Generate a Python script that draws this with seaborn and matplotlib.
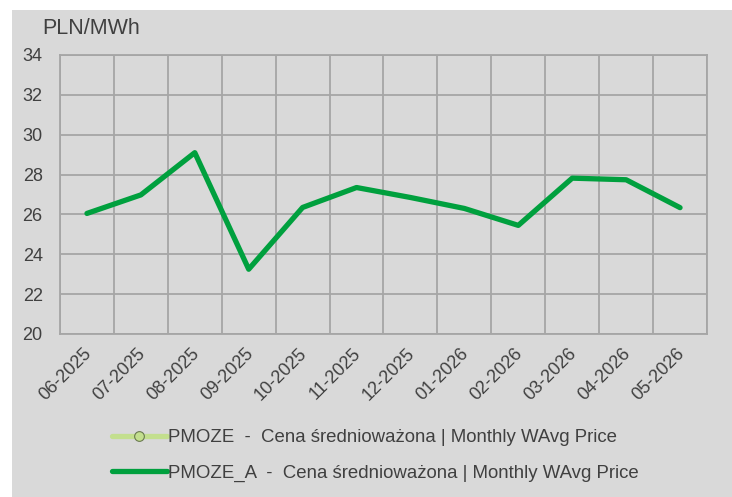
import pandas as pd
import numpy as np
import matplotlib
matplotlib.use("Agg")
import matplotlib.pyplot as plt
import matplotlib.transforms as mtransforms
import seaborn as sns
from matplotlib.patches import Rectangle
from matplotlib.lines import Line2D

# data
months = ["06-2025", "07-2025", "08-2025", "09-2025", "10-2025", "11-2025",
          "12-2025", "01-2026", "02-2026", "03-2026", "04-2026", "05-2026"]
pmoze_a = [26.05, 26.98, 29.1, 23.25, 26.35, 27.35,
           26.85, 26.3, 25.45, 27.82, 27.74, 26.34]
pmoze = [np.nan] * len(months)  # no visible values for PMOZE

label_pmoze = "PMOZE  -  Cena średnioważona | Monthly WAvg Price"
label_pmoze_a = "PMOZE_A  -  Cena średnioważona | Monthly WAvg Price"

BG = "#d9d9d9"
GRID = "#a6a6a6"
TXT = "#404040"
GREEN = "#00a03e"
LIGHT = "#c3df8e"

sns.set_style("white")
plt.rcParams["font.family"] = ["Liberation Sans", "DejaVu Sans"]

df = pd.DataFrame({"month": months, "PMOZE_A": pmoze_a, "PMOZE": pmoze})

fig = plt.figure(figsize=(7.32, 4.97), dpi=100)
fig.patch.set_facecolor("white")
fig.patches.append(Rectangle((12 / 732, 0), 1, 1 - 10 / 497, transform=fig.transFigure,
                             facecolor=BG, edgecolor="none", zorder=-10))

ax = fig.add_axes([60 / 732, 1 - 334 / 497, (707 - 60) / 732, (334 - 55) / 497])
ax.set_facecolor(BG)

sns.lineplot(data=df, x="month", y="PMOZE_A", ax=ax, color=GREEN, linewidth=3.8,
             sort=False, legend=False)
ax.plot(range(len(months)), df["PMOZE"], color=LIGHT, linewidth=3.8, marker="o")

ax.set_xlim(-0.5, len(months) - 0.5)
ax.set_ylim(20, 34)
ax.set_yticks(range(20, 35, 2))
ax.set_xticks(range(len(months)))
ax.set_xticks(np.arange(-0.5, len(months), 1), minor=True)
ax.set_xticklabels(months, rotation=45, ha="right", rotation_mode="anchor")
ax.grid(False)
ax.grid(True, which="minor", axis="x", color=GRID, linewidth=1.3)
ax.grid(True, which="major", axis="y", color=GRID, linewidth=1.3)
ax.tick_params(which="both", length=0, labelsize=13, colors=TXT)
ax.tick_params(axis="y", pad=12.5)
ax.tick_params(axis="x", pad=8)
shift = mtransforms.ScaledTranslation(-4 / 100, 0, fig.dpi_scale_trans)
for lbl in ax.get_xticklabels():
    lbl.set_transform(lbl.get_transform() + shift)
for s in ax.spines.values():
    s.set_color(GRID)
    s.set_linewidth(1.3)
ax.set_xlabel("")
ax.set_ylabel("")
ax.set_axisbelow(True)

fig.text(42 / 732, 1 - 29 / 497, "PLN/MWh", fontsize=15.5, color=TXT, va="center", ha="left")

handles = [
    Line2D([], [], color=LIGHT, linewidth=3.8, marker="o", markersize=7,
           markerfacecolor=LIGHT, markeredgecolor="#6a7a50", markeredgewidth=0.8),
    Line2D([], [], color=GREEN, linewidth=3.8),
]
leg = fig.legend(handles, [label_pmoze, label_pmoze_a], loc="center left",
                 bbox_to_anchor=(95 / 732, 1 - 455.5 / 497), frameon=False,
                 fontsize=13.45, handlelength=2.95, handletextpad=0.08,
                 labelspacing=0.96, labelcolor=TXT)

fig.savefig("out.png", dpi=100, facecolor="white")
